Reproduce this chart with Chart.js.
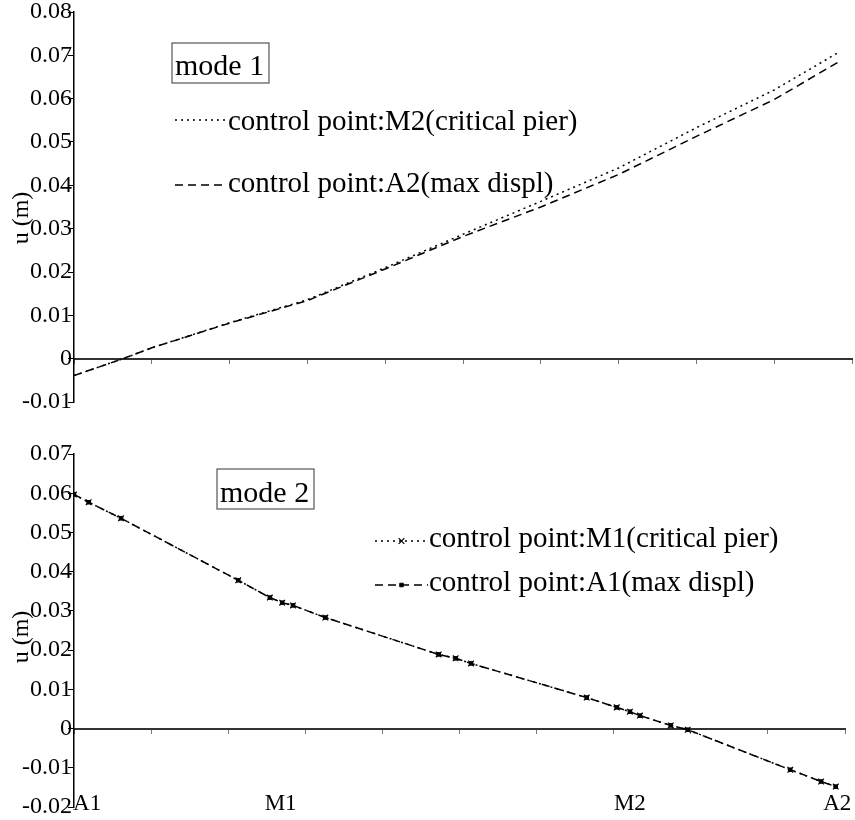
<!DOCTYPE html>
<html>
<head>
<meta charset="utf-8">
<script src="https://cdn.jsdelivr.net/npm/chart.js@4.4.0/dist/chart.umd.min.js"></script>
<style>
  body { margin: 0; background: #fff; width: 855px; height: 820px; overflow: hidden; position: relative; }
  canvas { position: absolute; left: 0; }
</style>
</head>
<body>
<canvas id="mode1" width="855" height="414" style="top:0"></canvas>
<canvas id="mode2" width="855" height="406" style="top:414px"></canvas>
<script>
// mode 1
const mode1X  = [0, 0.63, 1, 2, 3, 4, 5, 6, 7, 8, 9, 9.82];
const mode1M2 = [-0.0039, 0, 0.0025, 0.0083, 0.0136, 0.0210, 0.0287, 0.0363, 0.0440, 0.0533, 0.0620, 0.0706];
const mode1A2 = [-0.0039, 0, 0.0025, 0.0082, 0.0134, 0.0207, 0.0282, 0.0350, 0.0425, 0.0513, 0.0598, 0.0684];

// mode 2 (markers of the lower plot)
const mode2X  = [0, 0.19, 0.61, 2.13, 2.54, 2.70, 2.84, 3.26, 4.73, 4.95, 5.15, 6.65, 7.04, 7.21, 7.34, 7.74, 7.96, 9.29, 9.69, 9.88];
const mode2M1 = [0.0597, 0.0577, 0.0536, 0.0378, 0.0334, 0.0321, 0.0314, 0.0283, 0.0189, 0.0179, 0.0166, 0.0079, 0.0054, 0.0043, 0.0033, 0.0008, -0.0003, -0.0105, -0.0135, -0.0148];
const mode2A1 = [0.0597, 0.0577, 0.0536, 0.0378, 0.0334, 0.0321, 0.0314, 0.0283, 0.0189, 0.0179, 0.0166, 0.0079, 0.0054, 0.0043, 0.0033, 0.0008, -0.0003, -0.0105, -0.0135, -0.0148];

// x labels along the deck
const xLabels   = ['A1', 'M1', 'M2', 'A2'];
const xLabelPos = [0.17, 2.68, 7.21, 9.9];

const SERIF = '"Liberation Serif", "Times New Roman", serif';

Chart.defaults.font.family = SERIF;
Chart.defaults.color = '#000';

function pts(xs, ys) {
    return xs.map((x, i) => ({ x: x, y: ys[i] }));
}

// boxed "mode n" text, hand placed legend rows, y title, deck labels
const notes = {
    id: 'notes',
    afterDraw(chart, args, o) {
        const ctx = chart.ctx;
        ctx.save();
        ctx.fillStyle = '#000';
        ctx.textBaseline = 'alphabetic';

        const b = o.box;
        ctx.strokeStyle = '#555';
        ctx.lineWidth = 1.2;
        ctx.strokeRect(b.x, b.y, b.w, b.h);
        ctx.font = '30px ' + SERIF;
        ctx.textAlign = 'left';
        ctx.fillText(b.text, b.x + 3, b.base);

        ctx.font = '29px ' + SERIF;
        o.rows.forEach(r => {
            const ds = chart.data.datasets[r.ds];
            ctx.save();
            ctx.strokeStyle = ds.borderColor;
            ctx.lineWidth = ds.borderWidth;
            ctx.setLineDash(ds.borderDash || []);
            ctx.beginPath();
            ctx.moveTo(r.x0, r.y);
            ctx.lineTo(r.x1, r.y);
            ctx.stroke();
            ctx.restore();
            if (ds.pointRadius > 0) {
                ctx.save();
                ctx.fillStyle = ds.pointBackgroundColor;
                ctx.strokeStyle = ds.pointBorderColor;
                ctx.lineWidth = ds.pointBorderWidth;
                Chart.helpers.drawPoint(ctx, {
                    pointStyle: ds.pointStyle, radius: ds.pointRadius,
                    borderWidth: ds.pointBorderWidth, rotation: 0
                }, (r.x0 + r.x1) / 2, r.y);
                ctx.restore();
            }
            ctx.fillText(ds.label, r.x1 + 1, r.base);
        });

        // y title, overlapping the tick labels like the original
        ctx.save();
        ctx.font = '24px ' + SERIF;
        ctx.textAlign = 'center';
        ctx.textBaseline = 'middle';
        ctx.translate(o.ytitle.x, o.ytitle.y);
        ctx.rotate(-Math.PI / 2);
        ctx.fillText('u (m)', 0, 0);
        ctx.restore();

        if (o.deck) {
            const xs = chart.scales.x;
            ctx.font = '23px ' + SERIF;
            ctx.textAlign = 'center';
            xLabels.forEach((t, i) => {
                ctx.fillText(t, xs.getPixelForValue(xLabelPos[i]), o.deck.base);
            });
        }
        ctx.restore();
    }
};

function yAxis(min, max) {
    return {
        type: 'linear',
        position: 'left',
        min: min,
        max: max,
        ticks: {
            stepSize: 0.01, color: '#000', font: { size: 24, lineHeight: 1 }, padding: -4,
            callback: v => String(Math.round(v * 100) / 100)
        },
        grid: { drawOnChartArea: false, tickLength: 6, color: '#000' },
        border: { color: '#000', width: 1.5 },
        afterFit: s => { s.width = 74; }
    };
}

// axis drawn on the zero line with small tick marks
const zeroAxis = {
    type: 'linear',
    position: { y: 0 },
    min: 0,
    max: 10,
    ticks: { display: false, stepSize: 1 },
    grid: { drawOnChartArea: false, tickLength: 4, color: '#777' },
    border: { color: '#333', width: 2 }
};

const lineBase = {
    borderColor: '#000',
    borderWidth: 1.5,
    fill: false,
    tension: 0,
    xAxisID: 'x',
    yAxisID: 'y'
};

new Chart(document.getElementById('mode1'), {
    type: 'line',
    data: {
        datasets: [
            Object.assign({}, lineBase, {
                label: 'control point:M2(critical pier)',
                data: pts(mode1X, mode1M2),
                borderDash: [2, 4],
                pointRadius: 0
            }),
            Object.assign({}, lineBase, {
                label: 'control point:A2(max displ)',
                data: pts(mode1X, mode1A2),
                borderDash: [8, 5],
                pointRadius: 0
            })
        ]
    },
    options: {
        responsive: false,
        animation: false,
        events: [],
        layout: { padding: { top: 12, right: 3, bottom: 12, left: 0 } },
        scales: {
            x: zeroAxis,
            y: yAxis(-0.01, 0.08)
        },
        plugins: {
            legend: { display: false },
            tooltip: { enabled: false },
            notes: {
                box: { x: 172, y: 43, w: 97, h: 40, base: 75, text: 'mode 1' },
                rows: [
                    { ds: 0, x0: 175, x1: 227, y: 120, base: 130 },
                    { ds: 1, x0: 175, x1: 227, y: 185, base: 192 }
                ],
                ytitle: { x: 22, y: 218 }
            }
        }
    },
    plugins: [notes]
});

new Chart(document.getElementById('mode2'), {
    type: 'line',
    data: {
        datasets: [
            Object.assign({}, lineBase, {
                label: 'control point:M1(critical pier)',
                data: pts(mode2X, mode2M1),
                borderDash: [2, 4],
                pointStyle: 'crossRot',
                pointRadius: 4,
                pointBorderColor: '#000',
                pointBackgroundColor: '#000',
                pointBorderWidth: 1.2
            }),
            Object.assign({}, lineBase, {
                label: 'control point:A1(max displ)',
                data: pts(mode2X, mode2A1),
                borderDash: [8, 5],
                pointStyle: 'rect',
                pointRadius: 2.5,
                pointBorderColor: '#000',
                pointBackgroundColor: '#000',
                pointBorderWidth: 1
            })
        ]
    },
    options: {
        responsive: false,
        animation: false,
        events: [],
        layout: { padding: { top: 40, right: 10, bottom: 13, left: 0 } },
        scales: {
            x: zeroAxis,
            y: yAxis(-0.02, 0.07)
        },
        plugins: {
            legend: { display: false },
            tooltip: { enabled: false },
            notes: {
                box: { x: 217, y: 55, w: 97, h: 40, base: 88, text: 'mode 2' },
                rows: [
                    { ds: 0, x0: 375, x1: 428, y: 127, base: 133 },
                    { ds: 1, x0: 375, x1: 428, y: 171, base: 177 }
                ],
                ytitle: { x: 22, y: 223 },
                deck: { base: 396 }
            }
        }
    },
    plugins: [notes]
});
</script>
</body>
</html>
